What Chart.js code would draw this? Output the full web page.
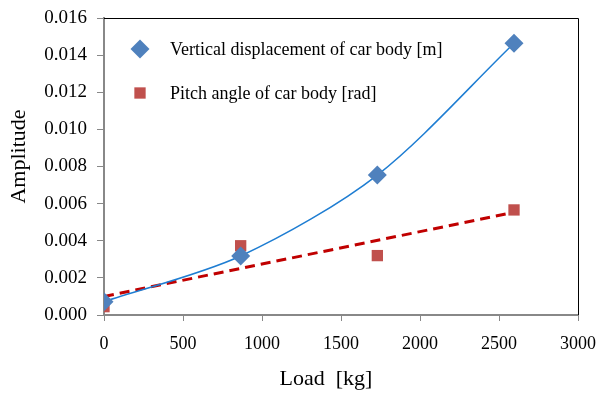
<!DOCTYPE html>
<html>
<head>
<meta charset="utf-8">
<script src="https://cdn.jsdelivr.net/npm/chart.js@4/dist/chart.umd.min.js"></script>
<style>
  html, body { margin: 0; padding: 0; background: #fff; }
</style>
</head>
<body>
<canvas id="chart" width="601" height="394"></canvas>
<script>
// data
const loads = [0, 865, 1730, 2595];
const vertDisp = [0.00072, 0.00318, 0.00754, 0.01464];
const pitchAngle = [0.00045, 0.00373, 0.00320, 0.00566];
// linear trendline of the pitch angle, end points
const pitchTrendLoads = [0, 2595];
const pitchTrend = [0.00100, 0.00553];
const seriesNames = ['Vertical displacement of car body [m]', 'Pitch angle of car body [rad]'];
const yTitle = 'Amplitude';
const xTitle = 'Load  [kg]';

const serif = '"Liberation Serif", "Times New Roman", serif';
const toXY = (xs, ys) => xs.map((x, i) => ({ x: x, y: ys[i] }));

// legend sits inside the plot, top left
const insideLegend = {
  id: 'insideLegend',
  afterDatasetsDraw(chart) {
    const { ctx, chartArea } = chart;
    const items = [
      { style: 'rectRot', r: 9.5, color: '#4F81BD' },
      { style: 'rect', r: 8, color: '#C0504D' }
    ];
    ctx.save();
    ctx.font = '18px ' + serif;
    ctx.textBaseline = 'middle';
    items.forEach((it, i) => {
      const y = chartArea.top + 31 + i * 44;
      ctx.fillStyle = it.color;
      ctx.strokeStyle = it.color;
      Chart.helpers.drawPoint(ctx, { pointStyle: it.style, radius: it.r, borderWidth: 0, rotation: 0 }, chartArea.left + 36, y);
      ctx.fillStyle = '#000';
      ctx.fillText(seriesNames[i], chartArea.left + 66, y + 1);
    });
    ctx.restore();
  }
};

// black frame on top and right side, axis titles placed a little off centre like the original
const frame = {
  id: 'frame',
  beforeDatasetsDraw(chart) {
    const { ctx, chartArea: a } = chart;
    ctx.save();
    ctx.strokeStyle = '#000';
    ctx.lineWidth = 1;
    ctx.beginPath();
    ctx.moveTo(a.left, a.top + 0.5);
    ctx.lineTo(a.right + 0.5, a.top + 0.5);
    ctx.lineTo(a.right + 0.5, a.bottom);
    ctx.stroke();

    ctx.font = '22px ' + serif;
    ctx.fillStyle = '#000';
    ctx.textAlign = 'center';
    ctx.textBaseline = 'middle';
    ctx.fillText(xTitle, (a.left + a.right) / 2 - 15, 379);

    ctx.translate(19, (a.top + a.bottom) / 2 - 10);
    ctx.rotate(-Math.PI / 2);
    ctx.fillText(yTitle, 0, 0);
    ctx.restore();
  }
};

new Chart(document.getElementById('chart'), {
  type: 'scatter',
  data: {
    datasets: [
      {
        label: seriesNames[0],
        data: toXY(loads, vertDisp),
        pointStyle: 'rectRot',
        pointRadius: 9.5,
        backgroundColor: '#4F81BD',
        borderColor: '#4F81BD',
        borderWidth: 0
      },
      {
        label: seriesNames[1],
        data: toXY(loads, pitchAngle),
        pointStyle: 'rect',
        pointRadius: 8,
        backgroundColor: '#C0504D',
        borderColor: '#C0504D',
        borderWidth: 0
      },
      {
        label: 'trend vertical',
        data: toXY(loads, vertDisp),
        showLine: true,
        tension: 0.3,
        pointRadius: 0,
        borderColor: '#1E7DD2',
        borderWidth: 1.5
      },
      {
        label: 'trend pitch',
        data: toXY(pitchTrendLoads, pitchTrend),
        showLine: true,
        pointRadius: 0,
        borderColor: '#C00000',
        borderWidth: 3,
        borderDash: [10, 6]
      }
    ]
  },
  options: {
    responsive: false,
    animation: false,
    layout: { padding: { top: 18, right: 23, bottom: 0, left: 0 } },
    plugins: {
      legend: { display: false },
      tooltip: { enabled: false }
    },
    scales: {
      x: {
        type: 'linear',
        min: 0,
        max: 3000,
        afterFit: s => { s.height = 79; s.paddingLeft = 0; s.paddingRight = 0; },
        ticks: {
          stepSize: 500,
          color: '#000',
          padding: 12,
          font: { family: serif, size: 18 },
          callback: v => String(v)
        },
        grid: { drawOnChartArea: false, drawTicks: true, tickLength: 6, color: '#888' },
        border: { color: '#888', width: 2 }
      },
      y: {
        min: 0,
        max: 0.016,
        afterFit: s => { s.width = 104; s.paddingTop = 0; s.paddingBottom = 0; },
        ticks: {
          stepSize: 0.002,
          color: '#000',
          padding: 10,
          font: { family: serif, size: 19 },
          callback: v => v.toFixed(3)
        },
        grid: { drawOnChartArea: false, drawTicks: true, tickLength: 7, color: '#888' },
        border: { color: '#888', width: 2 }
      }
    }
  },
  plugins: [frame, insideLegend]
});
</script>
</body>
</html>
